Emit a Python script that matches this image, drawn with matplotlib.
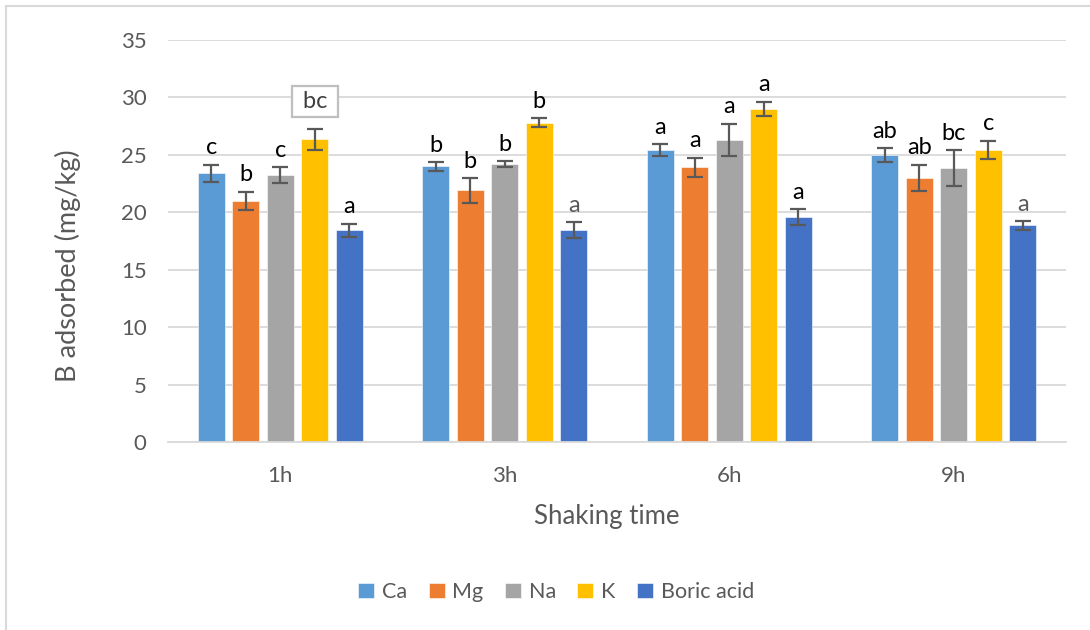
import matplotlib
matplotlib.use("Agg")
import matplotlib.pyplot as plt
from matplotlib.lines import Line2D
import numpy as np

plt.rcParams['font.family'] = ['Lato', 'DejaVu Sans']

categories = ["1h", "3h", "6h", "9h"]
series = ["Ca", "Mg", "Na", "K", "Boric acid"]
ca = [23.4, 24.0, 25.4, 25.0]
mg = [21.0, 21.9, 23.9, 23.0]
na = [23.25, 24.2, 26.3, 23.85]
k = [26.35, 27.8, 29.0, 25.45]
boric = [18.45, 18.45, 19.6, 18.85]
ca_err = [0.75, 0.37, 0.52, 0.58]
mg_err = [0.8, 1.05, 0.86, 1.15]
na_err = [0.7, 0.28, 1.42, 1.57]
k_err = [0.93, 0.37, 0.64, 0.8]
boric_err = [0.56, 0.67, 0.68, 0.38]
ca_lbl = ["c", "b", "a", "ab"]
mg_lbl = ["b", "b", "a", "ab"]
na_lbl = ["c", "b", "a", "bc"]
k_lbl = ["bc", "b", "a", "c"]
boric_lbl = ["a", "a", "a", "a"]

values = [ca, mg, na, k, boric]
errors = [ca_err, mg_err, na_err, k_err, boric_err]
labels = [ca_lbl, mg_lbl, na_lbl, k_lbl, boric_lbl]
colors = ["#5B9BD5", "#ED7D31", "#A5A5A5", "#FFC000", "#4472C4"]

fig = plt.figure(figsize=(10.9, 6.3), dpi=100)
ax = fig.add_axes([168/1090, 1-442/630, (1066-168)/1090, (442-40)/630])

x = np.arange(len(categories))
step = 0.1537
width = 0.12
for i, (vals, errs, lbls, col, name) in enumerate(zip(values, errors, labels, colors, series)):
    pos = x + (i - 2) * step
    ax.bar(pos, vals, width=width, color=col, edgecolor='white', linewidth=0.4,
           label=name, zorder=2)
    ax.errorbar(pos, vals, yerr=errs, fmt='none', ecolor='#595959', elinewidth=1.6,
                capsize=5.5, capthick=1.6, zorder=3)
    for j in range(len(categories)):
        top = vals[j] + errs[j]
        boxed = (i == 3 and j == 0)
        tcol = '#595959' if (i == 4 and j in (1, 3)) else 'black'
        if boxed:
            ax.annotate(" " + lbls[j] + " ", (pos[j], top), xytext=(0, 19.5),
                        textcoords='offset points', ha='center', va='center',
                        fontsize=17, color='#404040', zorder=4,
                        bbox=dict(boxstyle='square,pad=0.2', fc='white', ec='#BFBFBF', lw=1.6))
        else:
            ax.annotate(lbls[j], (pos[j], top), xytext=(0, 12), textcoords='offset points',
                        ha='center', va='center', fontsize=17, color=tcol, zorder=4)

ax.set_xlim(-0.5, len(categories) - 0.5)
ax.set_ylim(0, 35)
ax.set_yticks(np.arange(0, 36, 5))
ax.set_xticks(x)
ax.set_xticklabels(categories)
ax.yaxis.grid(True, color='#D9D9D9', linewidth=1.3, zorder=0)
ax.set_axisbelow(True)
for s in ['top', 'right', 'left']:
    ax.spines[s].set_visible(False)
ax.spines['bottom'].set_color('#D9D9D9')
ax.spines['bottom'].set_linewidth(1.3)
ax.tick_params(axis='both', length=0, labelsize=16, labelcolor='#595959')
ax.tick_params(axis='x', pad=17)
ax.tick_params(axis='y', pad=15.5)
ax.set_ylabel("B adsorbed (mg/kg)", fontsize=19.5, color='#595959')
ax.yaxis.set_label_coords((81-168)/898, (442-266)/402)
ax.set_xlabel("Shaking time", fontsize=18.5, color='#595959')
ax.xaxis.set_label_coords((607-168)/898, -(504-442)/402)

leg = fig.legend(loc='center', bbox_to_anchor=(556/1090, 1-592/630), ncol=5, frameon=False,
                 fontsize=15.5, handlelength=0.75, handleheight=0.75, handletextpad=0.35,
                 columnspacing=1.0)
for t in leg.get_texts():
    t.set_color('#595959')

fig.add_artist(Line2D([6/1090, 6/1090], [0, 1-6/630], color='#D9D9D9', lw=1.5))
fig.add_artist(Line2D([6/1090, 1], [1-6/630, 1-6/630], color='#D9D9D9', lw=1.5))

fig.savefig("out.png", dpi=100)
